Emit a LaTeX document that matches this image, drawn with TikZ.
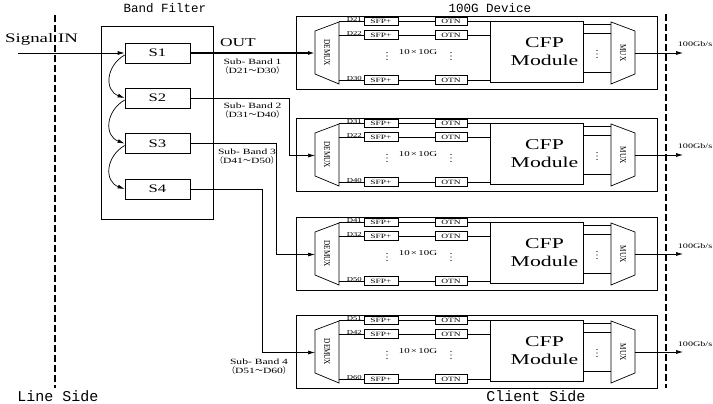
\documentclass[tikz,border=0pt]{standalone}
\usepackage{fontspec}
\setmainfont{Liberation Serif}[FakeStretch=1.45]
\newfontfamily\monofont{Liberation Mono}
\newfontfamily\condfont{Liberation Serif}[FakeStretch=0.8]
\newfontfamily\cjk{Noto Sans CJK SC}
\usetikzlibrary{arrows.meta}

\begin{document}
\begin{tikzpicture}[x=1pt,y=-1pt,
  >={Latex[length=7pt,width=4pt]}, line width=0.7pt,
  box/.style={draw,inner sep=0pt},
  sbox/.style={box,minimum width=65pt,minimum height=20pt,font=\fontsize{11.5}{12}\selectfont},
  chip/.style={box,minimum height=8.5pt,font=\fontsize{6.5}{7}\selectfont},
  cfp/.style={box,minimum width=93pt,minimum height=61pt,align=center,font=\fontsize{15}{17.5}\selectfont},
  dev/.style={box,anchor=north west,minimum width=361pt,minimum height=73pt},
  mx/.style={rotate=-90,inner sep=0pt,font=\condfont\fontsize{9}{9}\selectfont},
  lbl/.style={inner sep=0.5pt,font=\fontsize{6}{6}\selectfont},
  band/.style={align=center,inner sep=0pt,font=\fontsize{8}{9}\selectfont},
  head/.style={inner sep=0pt,font=\monofont\fontsize{12.5}{13}\selectfont},
  side/.style={inner sep=0pt,font=\monofont\fontsize{15}{16}\selectfont},
  divider/.style={line width=1.2pt,dash pattern=on 7pt off 3pt}]
  \useasboundingbox (0,0) rectangle (713,404);

  % line side: band filter
  \node[head] (bftitle) at (165,8.5) {Band Filter};
  \node[box,minimum width=112pt,minimum height=193pt] (bf) at (157,122.5) {};
  \foreach \s/\y in {1/53,2/98,3/143.5,4/189}
    \node[sbox] (S\s) at (157.5,\y) {S\s};
  \node[inner sep=0pt,font=\fontsize{13}{14}\selectfont] (sigin) at (41.5,39) {Signal IN};
  \coordinate (sig) at (18,53);
  \draw[->] (sig) -- (S1.west);
  \foreach \a/\b in {1/2,2/3,3/4}
    \draw[->] ([yshift=-2pt]S\a.west) to[out=210,in=160,looseness=1.3] (S\b.west);
  \node[inner sep=0pt,font=\fontsize{12}{13}\selectfont] (outlbl) at (238,43) {OUT};

  % the four 100G devices
  \node[head] (devtitle) at (490,8.5) {100G Device};
  \foreach \i/\ty/\da/\db/\dc in {1/16/D21/D22/D30,2/118/D31/D22/D40,3/217/D41/D32/D50,4/315/D51/D42/D60}{
    \begin{scope}[shift={(0,\ty)}]
      \node[dev] (dev\i) at (296,0) {};
      \draw (315,15) -- (339,6) -- (339,68) -- (315,58) -- cycle;
      \node[mx] (demux\i) at (327,37) {DEMUX};
      \coordinate (in\i) at (315,37.5);
      \node[cfp] (cfp\i) at (536.5,35.5) {\hspace*{16pt}CFP\\\hspace*{16pt}Module};
      \foreach \r/\y/\dl in {a/5.5/\da,b/19/\db,c/64/\dc}{
        \coordinate (ch\r\i) at (339,\y);
        \node[chip,minimum width=34pt] (sfp\r\i) at (381,\y) {SFP+};
        \node[chip,minimum width=32pt] (otn\r\i) at (451,\y) {OTN};
        \draw (ch\r\i) -- (sfp\r\i)
          node[lbl,pos=1,anchor=south east,xshift=-1pt,yshift=-1pt] (dl\r\i) {\dl};
        \draw (sfp\r\i) -- (otn\r\i);
        \draw (otn\r\i) -- (otn\r\i -| cfp\i.west);
      }
      \node[band,font=\fontsize{7.5}{8}\selectfont] (ten\i) at (418,36) {10\,×\,10G};
      % dotted gaps
      \foreach \x/\yc in {387/40,451/40,597/38}
        \foreach \dy in {-3.5,0,3.5}
          \fill (\x,\yc+\dy) circle (0.7pt);
      \draw (611,6) -- (635,15) -- (635,58) -- (611,68) -- cycle;
      \node[mx] (mux\i) at (623,37) {MUX};
      \foreach \y [count=\k] in {8,17,56}{
        \coordinate (mx\k\i) at (611,\y);
        \draw (cfp\i.east |- mx\k\i) -- (mx\k\i);
      }
      \coordinate (out\i) at (635,37);
      \coordinate (rate\i) at (683,37);
      \draw[->] (out\i) -- (rate\i);
      \node[lbl,anchor=base west,font=\fontsize{7}{7}\selectfont] (bw\i) at (677,31) {100Gb/s};
    \end{scope}
  }

  % sub-band routing
  \draw[->,line width=1.6pt] (S1.east) -- (S1.east -| in1);
  \draw[->] (S2.east) -| ([xshift=-26pt]in2) -- (in2);
  \draw[->] (S3.east) -| ([xshift=-39pt]in3) -- (in3);
  \draw[->] (S4.east) -| ([xshift=-53pt]in4) -- (in4);
  \node[band] (sb1) at (252.5,66.5) {Sub- Band 1\\{\cjk （}D21{\cjk ～}D30{\cjk ）}};
  \node[band] (sb2) at (252.5,110.5) {Sub- Band 2\\{\cjk （}D31{\cjk ～}D40{\cjk ）}};
  \node[band] (sb3) at (247,157) {Sub- Band 3\\{\cjk （}D41{\cjk ～}D50{\cjk ）}};
  \node[band] (sb4) at (259,366.5) {Sub- Band 4\\{\cjk （}D51{\cjk ～}D60{\cjk ）}};

  % sides
  \draw[divider] (55,15) -- (55,388);
  \draw[divider] (666,14) -- (666,388);
  \node[side] (lineside) at (58,396) {Line Side};
  \node[side] (clientside) at (536,396) {Client Side};
\end{tikzpicture}
\end{document}
